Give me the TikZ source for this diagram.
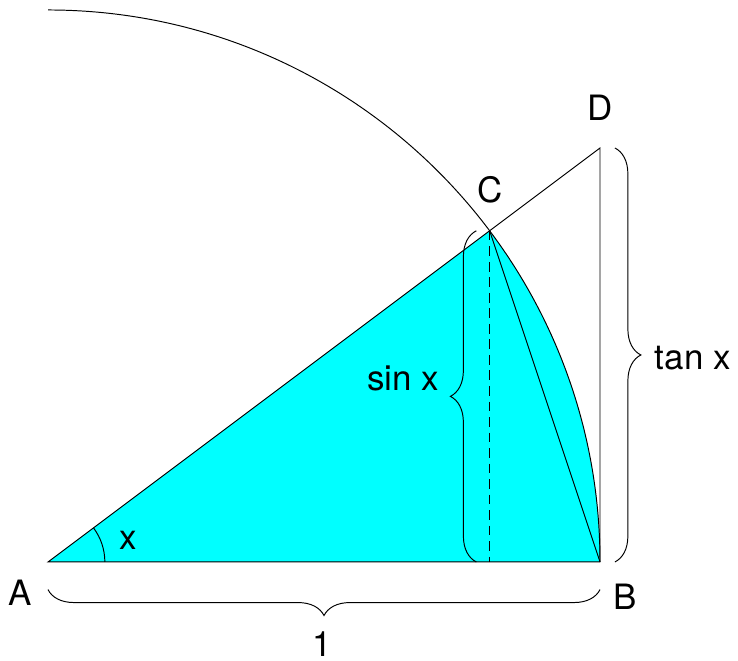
\documentclass[tikz,border=0pt]{standalone}
\usepackage{fontspec}
\setmainfont{TeX Gyre Heros}
\usetikzlibrary{decorations.pathreplacing}
\definecolor{aqua}{RGB}{0,255,255}
\begin{document}
\begin{tikzpicture}[
    line width=0.5pt,
    lbl/.style={font=\fontsize{18}{21}\selectfont, inner sep=0pt},
    brc/.style={decorate, decoration={brace, amplitude=0.47cm, raise=#1}},
    dsh/.style={dash pattern=on 5pt off 3pt}
]
\useasboundingbox (-0.8696,-1.7935) rectangle (12.5,10.181);

% Punkte
\coordinate (A) at (0,0);
\coordinate (B) at (10,0);
\coordinate (C) at (8,6);
\coordinate (D) at (10,7.5);
\coordinate (F) at (8,0);

% Sektor
\fill[aqua] (A) -- (B) arc (0:36.87:10) -- cycle;
\draw (0,10) arc (90:0:10);
\draw (A) -- (B) -- (D) -- cycle;
\draw (C) -- (B);
\draw[dsh] (C) -- (F);
\draw (1.03,0) arc (0:36.87:1.03);

% Klammern
\draw[brc=0.5cm] (B) -- (A);
\draw[brc=0.27cm] (D) -- (B);
\draw[brc=0.24cm] (F) -- (C);

% Beschriftung
\node[lbl] (la) at (-0.507,-0.562) {A};
\node[lbl] (lb) at (10.45,-0.634) {B};
\node[lbl] (lc) at (8.01,6.74) {C};
\node[lbl] (ld) at (10.0,8.22) {D};
\node[lbl] (lx) at (1.45,0.40) {x};
\node[lbl] (l1) at (4.96,-1.48) {1};
\node[lbl] (lsin) at (6.43,3.33) {sin x};
\node[lbl] (ltan) at (11.68,3.70) {tan x};
\end{tikzpicture}
\end{document}
